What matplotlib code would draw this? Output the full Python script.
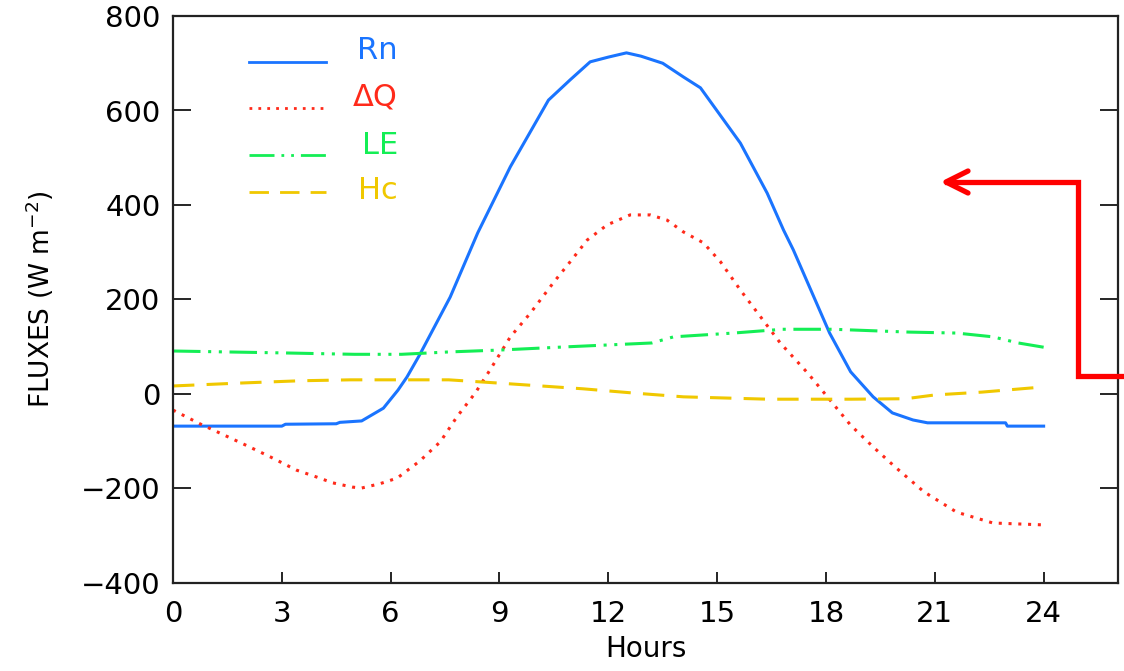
import matplotlib
matplotlib.use("Agg")
import matplotlib.pyplot as plt
from matplotlib.lines import Line2D

# data
hours_rn = [0, 3.0, 3.1, 4.5, 4.6, 5.2, 5.8, 6.2, 6.45, 6.8, 7.64, 8.4, 9.3, 10.35,
            10.95, 11.5, 12.0, 12.5, 12.9, 13.5, 14.07, 14.54, 15.64, 16.38, 16.83,
            17.1, 18.1, 18.68, 19.3, 19.83, 20.4, 20.8, 22.95, 23.0, 24]
rn = [-68, -68, -64, -63, -60, -57, -30, 8, 36, 83, 205, 341, 481, 622,
      665, 703, 713, 722, 715, 700, 671, 648, 531, 425, 347,
      305, 129, 47, -6, -40, -55, -61, -61, -68, -68]

hours_dq = [0, 0.74, 1.3, 2.0, 2.68, 3.4, 3.97, 4.4, 4.94, 5.2, 5.7, 6.18, 6.8,
            7.37, 7.83, 8.33, 8.74, 9.3, 9.85, 10.48, 10.95, 11.42, 11.97, 12.6,
            13.16, 13.62, 14.07, 14.62, 15.09, 15.64, 16.2, 16.74, 17.5, 18.04,
            18.68, 19.3, 19.9, 20.7, 21.6, 22.6, 24]
dq = [-34, -63, -83, -108, -133, -161, -176, -188, -197, -199, -190, -178, -142,
      -101, -48, 2, 51, 121, 171, 235, 280, 326, 358, 379,
      379, 368, 343, 320, 280, 220, 163, 108, 44, -6,
      -66, -112, -154, -207, -250, -273, -277]

hours_le = [0, 3, 5, 6.3, 7.6, 9, 10.9, 13.2, 13.8, 15.45, 16.8, 18.2, 20.3,
            21.6, 22.6, 23.3, 24]
le = [91, 87, 84, 84, 89, 93, 100, 108, 121, 129, 137, 137, 131,
      129, 121, 108, 99]

hours_hc = [0, 1.8, 3.5, 4.9, 7.6, 9, 11.3, 12.7, 14.07, 16.4, 18.7, 20.2, 21,
            22.3, 24]
hc = [17, 23, 28, 30, 30, 23, 11, 2, -6, -11, -11, -10, -2, 4, 15]

labels = ["Rn", "ΔQ", "LE", "Hc"]
colors = ["#1a74ff", "#ff2a1a", "#14ee55", "#f0c800"]
styles = ["-", (0, (1, 2.2)), (0, (9, 2.5, 1, 2.5, 1, 2.5)), (0, (7, 4))]
widths = [2.2, 2.2, 2.2, 2.2]

plt.rcParams["font.family"] = "DejaVu Sans"

fig = plt.figure(figsize=(11.24, 6.71), dpi=100)
ax = fig.add_axes([173 / 1124, 1 - 583 / 671, (1118 - 173) / 1124, (583 - 16) / 671])

series = [(hours_rn, rn), (hours_dq, dq), (hours_le, le), (hours_hc, hc)]
for (h, v), c, ls, lw in zip(series, colors, styles, widths):
    ax.plot(h, v, color=c, linestyle=ls, linewidth=lw)

ax.set_xlim(0, 26.05)
ax.set_ylim(-400, 800)
ax.set_xticks(range(0, 25, 3))
ax.set_yticks(range(-400, 801, 200))
ax.set_yticklabels(["\u2212400", "\u2212200", "0", "200", "400", "600", "800"])

ax.tick_params(axis="x", direction="in", length=8, width=1.2, pad=12,
               labelsize=21, top=False)
ax.tick_params(axis="y", direction="in", length=13, width=1.2, pad=9,
               labelsize=21, right=True)
for s in ax.spines.values():
    s.set_linewidth(1.6)
    s.set_color("#222222")

ax.set_xlabel("Hours", fontsize=20, labelpad=5)
ax.set_ylabel("FLUXES (W m$^{-2}$)", fontsize=19, labelpad=18)

# legend drawn IDL style: sample line then right-aligned label
leg_y = [0.919, 0.838, 0.755, 0.69]
txt_y = [0.94, 0.857, 0.772, 0.693]
for lab, c, ls, ly, ty in zip(labels, colors, styles, leg_y, txt_y):
    ax.plot([0.08, 0.162], [ly, ly], color=c, linestyle=ls, linewidth=2,
            transform=ax.transAxes)
    ax.text(0.238, ty, lab, color=c, fontsize=22, ha="right", va="center",
            transform=ax.transAxes)

# red bracket arrow on the right
W, H = 1124, 671
px = [1124, 1078, 1078, 947]
py = [376, 376, 182, 182]
fig.add_artist(Line2D([x / W for x in px], [1 - y / H for y in py],
                      color="red", linewidth=3.8, solid_joinstyle="miter",
                      transform=fig.transFigure))
fig.add_artist(Line2D([968 / W, 946 / W, 968 / W],
                      [1 - 171 / H, 1 - 182 / H, 1 - 193 / H],
                      color="red", linewidth=3.8, solid_capstyle="round",
                      transform=fig.transFigure))

fig.savefig("out.png", dpi=100)
